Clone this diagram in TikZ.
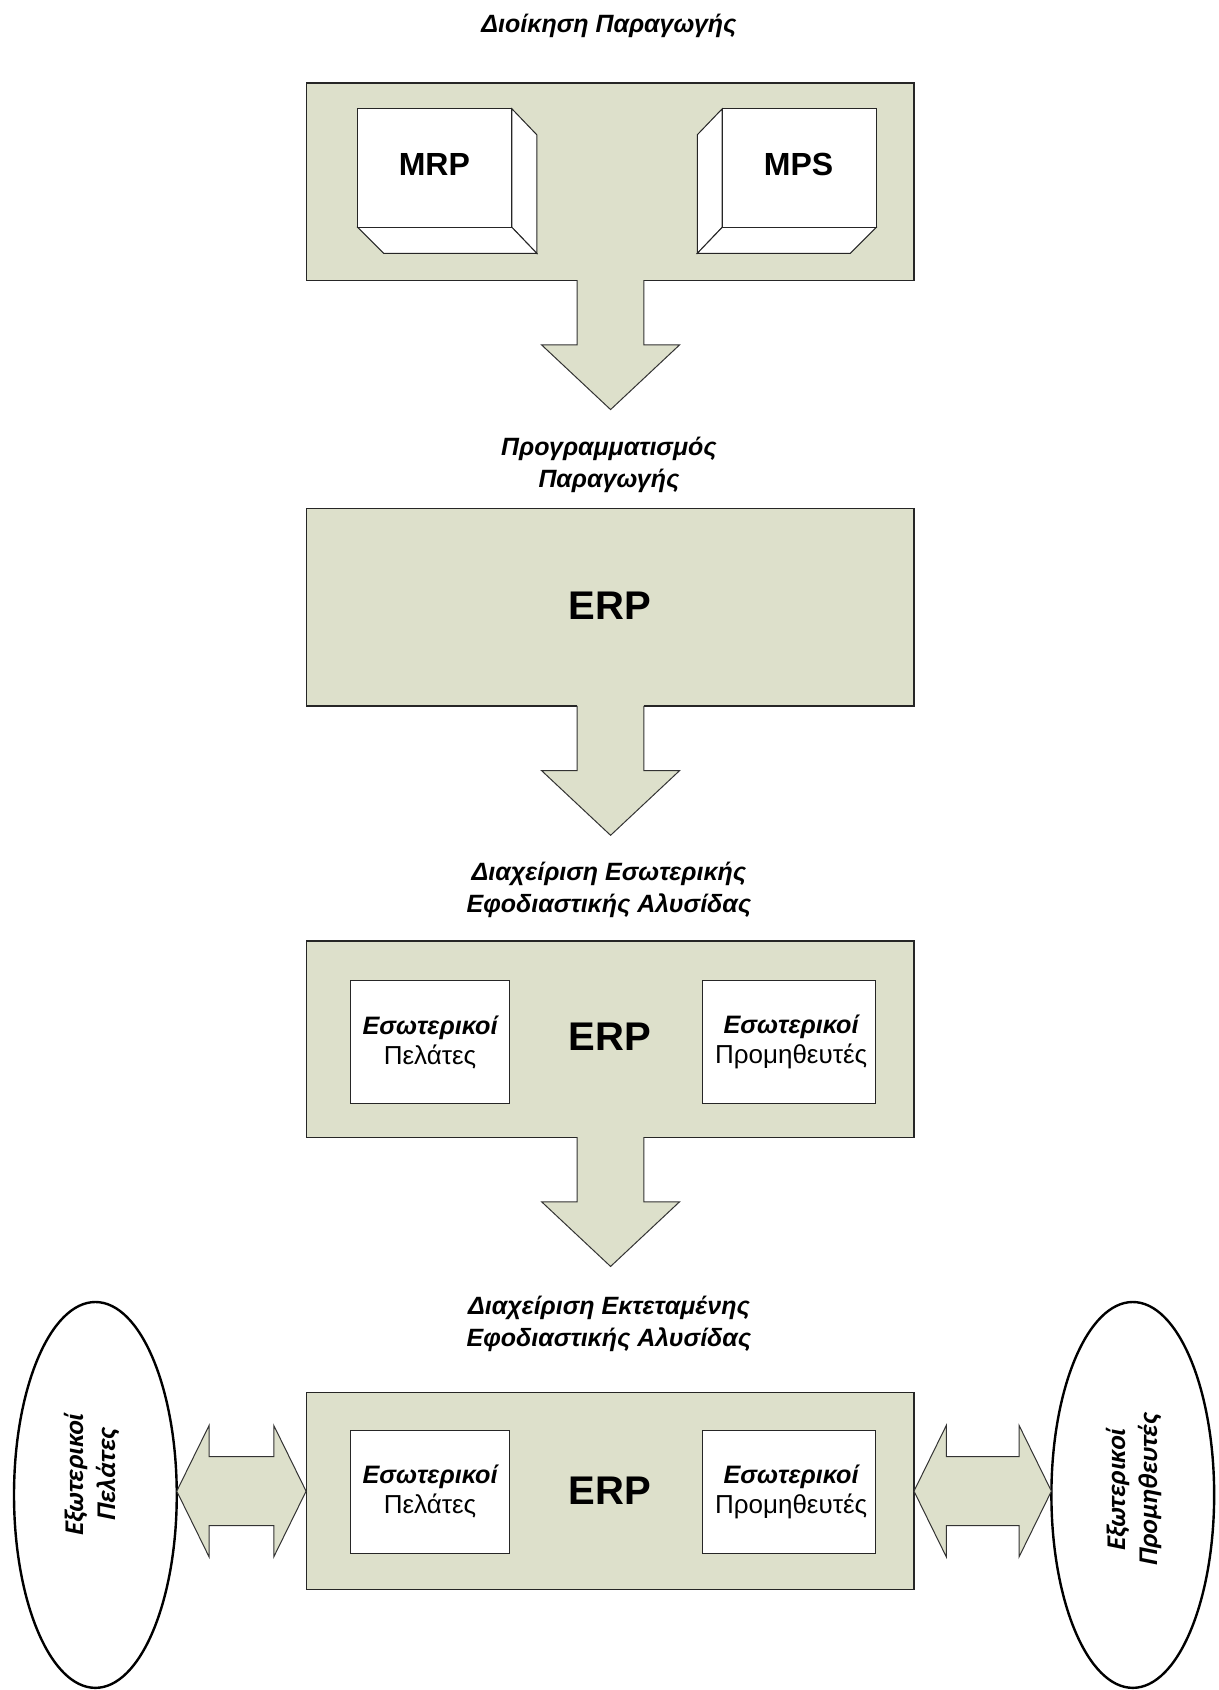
\documentclass[tikz,border=0pt]{standalone}
\usepackage{fontspec}
\setmainfont{Liberation Sans}
\newfontfamily\calfont{Carlito}[BoldFeatures={FakeSlant=0.2}]
\usetikzlibrary{calc,fit,shapes.geometric}

\definecolor{panel}{RGB}{221,224,203}

\tikzset{
  panelbox/.style={draw=black!85, fill=panel, line width=0.6pt, inner sep=0pt, outer sep=0pt},
  whitebox/.style={draw=black!85, fill=white, line width=0.6pt, inner sep=0pt, outer sep=0pt},
  cubeline/.style={draw=black!85, fill=white, line width=0.5pt, line join=miter},
  fatfill/.style={fill=panel},
  fatline/.style={draw=black!80, line width=0.5pt, line join=miter},
  heading/.style={font=\fontsize{12.5}{16}\selectfont\bfseries\itshape, align=center},
  bigname/.style={font=\fontsize{20}{24}\selectfont\bfseries},
  cubename/.style={font=\fontsize{16}{20}\selectfont\bfseries},
  inner/.style={font=\fontsize{13}{15}\selectfont, align=center},
  party/.style={draw=black, fill=white, ellipse, line width=1.2pt, inner sep=0pt, outer sep=0pt,
                minimum width=151*0.5389pt, minimum height=358*0.5389pt},
  partytext/.style={font=\calfont\fontsize{13.5}{16}\selectfont\bfseries, align=center, rotate=90}
}
\newcommand{\slanted}[1]{{\fontsize{12.6}{15}\selectfont\bfseries\itshape #1}}

% downward block arrow hanging from the bottom of a panel
\newcommand{\fatdown}[1]{%
  \fill[fatfill] ($(#1.south)+(-30.5,-1.5)$) -- ($(#1.south)+(-30.5,60)$) -- ($(#1.south)+(-63.5,60)$)
     -- ($(#1.south)+(0.5,120)$) -- ($(#1.south)+(64.5,60)$) -- ($(#1.south)+(31.5,60)$)
     -- ($(#1.south)+(31.5,-1.5)$) -- cycle;
  \draw[fatline] ($(#1.south)+(-30.5,0)$) -- ($(#1.south)+(-30.5,60)$) -- ($(#1.south)+(-63.5,60)$)
     -- ($(#1.south)+(0.5,120)$) -- ($(#1.south)+(64.5,60)$) -- ($(#1.south)+(31.5,60)$)
     -- ($(#1.south)+(31.5,0)$);}

% horizontal double block arrow between two anchors
\newcommand{\fatboth}[2]{%
  \path[fatfill,fatline] (#1) -- ($(#1)+(30,-61)$) -- ($(#1)+(30,-32)$) -- ($(#2)+(-30,-32)$)
     -- ($(#2)+(-30,-61)$) -- (#2) -- ($(#2)+(-30,61)$) -- ($(#2)+(-30,32)$)
     -- ($(#1)+(30,32)$) -- ($(#1)+(30,61)$) -- cycle;}

\begin{document}
\begin{tikzpicture}[x=0.5389pt, y=-0.5389pt]
  \fill[white] (0,0) rectangle (1131,1568);
  \useasboundingbox (0,0) rectangle (1131,1568);

  % ---- production management ----
  \node[heading] (t1) at (565,24) {Διοίκηση Παραγωγής};
  \node[panelbox, fit={(284,77) (848,260)}] (b1) {};

  % MRP cube (right and bottom faces visible)
  \draw[cubeline] (475,101) -- (498,125) -- (498,235) -- (475,211) -- cycle;
  \draw[cubeline] (332,211) -- (356,235) -- (498,235) -- (475,211) -- cycle;
  \node[whitebox, line width=0.5pt, fit={(332,101) (475,211)}] (mrp) {};
  \node[cubename] (mrpl) at (403,153) {MRP};

  % MPS cube (left and bottom faces visible)
  \draw[cubeline] (670,101) -- (647,125) -- (647,235) -- (670,211) -- cycle;
  \draw[cubeline] (647,235) -- (789,235) -- (813,211) -- (670,211) -- cycle;
  \node[whitebox, line width=0.5pt, fit={(670,101) (813,211)}] (mps) {};
  \node[cubename] (mpsl) at (741,153) {MPS};

  \fatdown{b1}

  % ---- production planning ----
  \node[heading] (t2) at (565,431) {Προγραμματισμός\\Παραγωγής};
  \node[panelbox, fit={(284,472) (848,655)}] (b2) {};
  \node[bigname] (erp2) at (566,562) {ERP};

  \fatdown{b2}

  % ---- internal supply chain ----
  \node[heading] (t3) at (565,826) {Διαχείριση Εσωτερικής\\Εφοδιαστικής Αλυσίδας};
  \node[panelbox, fit={(284,873) (848,1055)}] (b3) {};
  \node[whitebox, fit={(325,910) (473,1024)}] (c3) {};
  \node[whitebox, fit={(652,910) (812,1024)}] (s3) {};
  \node[inner] (c3l) at (c3) {\slanted{Εσωτερικοί}\\Πελάτες};
  \node[inner] (s3l) at ([xshift=2*0.5389pt]s3.center) {\slanted{Εσωτερικοί}\\Προμηθευτές};
  \node[bigname] (erp3) at (566,962) {ERP};

  \fatdown{b3}

  % ---- extended supply chain ----
  \node[heading] (t4) at (565,1228) {Διαχείριση Εκτεταμένης\\Εφοδιαστικής Αλυσίδας};
  \node[panelbox, fit={(284,1292) (848,1475)}] (b4) {};
  \node[whitebox, fit={(325,1327) (473,1441)}] (c4) {};
  \node[whitebox, fit={(652,1327) (812,1441)}] (s4) {};
  \node[inner] (c4l) at (c4) {\slanted{Εσωτερικοί}\\Πελάτες};
  \node[inner] (s4l) at ([xshift=2*0.5389pt]s4.center) {\slanted{Εσωτερικοί}\\Προμηθευτές};
  \node[bigname] (erp4) at (566,1383) {ERP};

  \node[party] (ext1) at (88.5,1387) {};
  \node[partytext] (ext1l) at (85,1369) {Εξωτερικοί\\Πελάτες};
  \node[party] (ext2) at (1051,1387) {};
  \node[partytext] (ext2l) at (1052,1383) {Εξωτερικοί\\Προμηθευτές};

  \coordinate (la) at (ext1.east |- b4.west);
  \coordinate (ra) at (ext2.west |- b4.east);
  \fatboth{la}{b4.west}
  \fatboth{b4.east}{ra}
\end{tikzpicture}
\end{document}
